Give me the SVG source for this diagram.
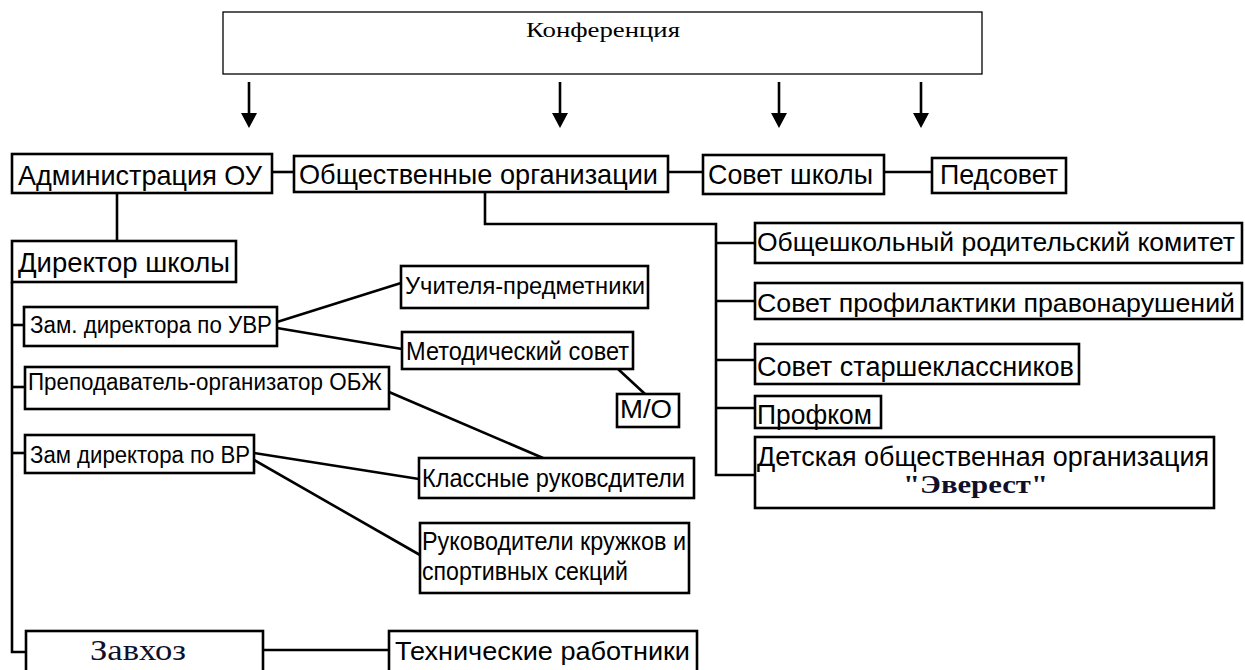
<svg xmlns="http://www.w3.org/2000/svg" width="1245" height="670" viewBox="0 0 1245 670">
<style>
.box{fill:#fff;stroke:#000;stroke-width:2.6}
.thin{fill:#fff;stroke:#000;stroke-width:1.3}
.s{font-family:"Liberation Sans",Arial,sans-serif;fill:#000}
.r{font-family:"Liberation Serif","Times New Roman",serif}
.c line,.c path{stroke:#000;stroke-width:2.6;fill:none}
.arr{stroke:#000;stroke-width:2}
</style>
<rect width="1245" height="670" fill="#fff"/>

<g class="c" id="connectors">
<line x1="272" y1="172" x2="294" y2="172"/>
<line x1="668" y1="172" x2="703" y2="172"/>
<line x1="884" y1="172" x2="932" y2="172"/>
<line x1="117" y1="193" x2="117" y2="241"/>
<path d="M12,282 V652 H26"/>
<line x1="12" y1="325" x2="24" y2="325"/>
<line x1="12" y1="387" x2="25" y2="387"/>
<line x1="12" y1="453" x2="25" y2="453"/>
<line x1="277" y1="322" x2="401" y2="283"/>
<line x1="277" y1="328" x2="402" y2="349"/>
<line x1="618" y1="369" x2="645" y2="394"/>
<line x1="389" y1="392" x2="543" y2="458"/>
<line x1="254" y1="453" x2="419" y2="479"/>
<line x1="254" y1="460" x2="420" y2="555"/>
<line x1="263" y1="650" x2="389" y2="650"/>
<path d="M485,192 V224 H716 V475 H755"/>
<line x1="716" y1="243" x2="755" y2="243"/>
<line x1="716" y1="301" x2="755" y2="301"/>
<line x1="716" y1="360" x2="755" y2="360"/>
<line x1="716" y1="408" x2="755" y2="408"/>
<g id="arrows">
<line class="arr" x1="249" y1="82" x2="249" y2="115"/><polygon points="241,113 257,113 249,128"/>
<line class="arr" x1="560" y1="82" x2="560" y2="115"/><polygon points="552,113 568,113 560,128"/>
<line class="arr" x1="779" y1="82" x2="779" y2="115"/><polygon points="771,113 787,113 779,128"/>
<line class="arr" x1="921" y1="82" x2="921" y2="115"/><polygon points="913,113 929,113 921,128"/>
</g>
</g>

<g id="konf"><rect class="thin" x="223" y="12" width="759" height="62"/>
<text class="r" x="526" y="37" font-size="22" textLength="154" lengthAdjust="spacingAndGlyphs">Конференция</text></g>

<g id="admin"><rect class="box" x="12" y="154" width="260" height="39"/>
<text class="s" x="18" y="185" font-size="28" textLength="244" lengthAdjust="spacingAndGlyphs">Администрация ОУ</text></g>
<g id="obsh"><rect class="box" x="294" y="156" width="374" height="36"/>
<text class="s" x="299" y="184" font-size="28" textLength="359" lengthAdjust="spacingAndGlyphs">Общественные организации</text></g>
<g id="sovet"><rect class="box" x="703" y="155" width="181" height="39"/>
<text class="s" x="708" y="184" font-size="28" textLength="165" lengthAdjust="spacingAndGlyphs">Совет школы</text></g>
<g id="ped"><rect class="box" x="932" y="158" width="134" height="35"/>
<text class="s" x="940" y="184" font-size="28" textLength="118" lengthAdjust="spacingAndGlyphs">Педсовет</text></g>

<g id="director"><rect class="box" x="12" y="241" width="224" height="41"/>
<text class="s" x="18" y="272" font-size="28" textLength="212" lengthAdjust="spacingAndGlyphs">Директор школы</text></g>
<g id="uvr"><rect class="box" x="24" y="307" width="253" height="39"/>
<text class="s" x="30" y="333" font-size="23" textLength="242" lengthAdjust="spacingAndGlyphs">Зам. директора по УВР</text></g>
<g id="obzh"><rect class="box" x="25" y="367" width="364" height="42"/>
<text class="s" x="28" y="390" font-size="23" textLength="354" lengthAdjust="spacingAndGlyphs">Преподаватель-организатор ОБЖ</text></g>
<g id="vr"><rect class="box" x="25" y="435" width="229" height="38"/>
<text class="s" x="30" y="463" font-size="23" textLength="220" lengthAdjust="spacingAndGlyphs">Зам директора по ВР</text></g>
<g id="zavhoz"><rect class="box" x="26" y="631" width="237" height="45"/>
<text class="r" x="90" y="660" font-size="30" fill="#10102a" textLength="96" lengthAdjust="spacingAndGlyphs">Завхоз</text></g>

<g id="uchitelya"><rect class="box" x="401" y="266" width="247" height="42"/>
<text class="s" x="405" y="294" font-size="24" textLength="240" lengthAdjust="spacingAndGlyphs">Учителя-предметники</text></g>
<g id="metod"><rect class="box" x="402" y="332" width="231" height="37"/>
<text class="s" x="406" y="360" font-size="25" textLength="223" lengthAdjust="spacingAndGlyphs">Методический совет</text></g>
<g id="mo"><rect class="box" x="617" y="394" width="62" height="33"/>
<text class="s" x="620" y="418" font-size="25" textLength="52" lengthAdjust="spacingAndGlyphs">М/О</text></g>
<g id="klass"><rect class="box" x="419" y="458" width="275" height="40"/>
<text class="s" x="422" y="487" font-size="25" textLength="263" lengthAdjust="spacingAndGlyphs">Классные руковсдители</text></g>
<g id="ruk"><rect class="box" x="420" y="523" width="269" height="70"/>
<text class="s" x="422" y="550" font-size="25" textLength="264" lengthAdjust="spacingAndGlyphs">Руководители кружков и</text>
<text class="s" x="422" y="580" font-size="25" textLength="206" lengthAdjust="spacingAndGlyphs">спортивных секций</text></g>
<g id="tech"><rect class="box" x="389" y="631" width="308" height="45"/>
<text class="s" x="395" y="660" font-size="25" textLength="295" lengthAdjust="spacingAndGlyphs">Технические работники</text></g>

<g id="roditel"><rect class="box" x="755" y="223" width="487" height="40"/>
<text class="s" x="757" y="251" font-size="26" textLength="478" lengthAdjust="spacingAndGlyphs">Общешкольный родительский комитет</text></g>
<g id="profil"><rect class="box" x="755" y="283" width="487" height="36"/>
<text class="s" x="757" y="312" font-size="26" textLength="478" lengthAdjust="spacingAndGlyphs">Совет профилактики правонарушений</text></g>
<g id="starsh"><rect class="box" x="755" y="344" width="324" height="40"/>
<text class="s" x="757" y="376" font-size="27" textLength="317" lengthAdjust="spacingAndGlyphs">Совет старшеклассников</text></g>
<g id="profkom"><rect class="box" x="755" y="396" width="126" height="32"/>
<text class="s" x="757" y="424" font-size="27" textLength="115" lengthAdjust="spacingAndGlyphs">Профком</text></g>
<g id="detsk"><rect class="box" x="755" y="437" width="459" height="71"/>
<text class="s" x="757" y="466" font-size="27" textLength="452" lengthAdjust="spacingAndGlyphs">Детская общественная организация</text>
<text class="r" x="903" y="493" font-size="26" font-weight="bold" fill="#10102a" textLength="145" lengthAdjust="spacingAndGlyphs">"Эверест"</text></g>
</svg>
